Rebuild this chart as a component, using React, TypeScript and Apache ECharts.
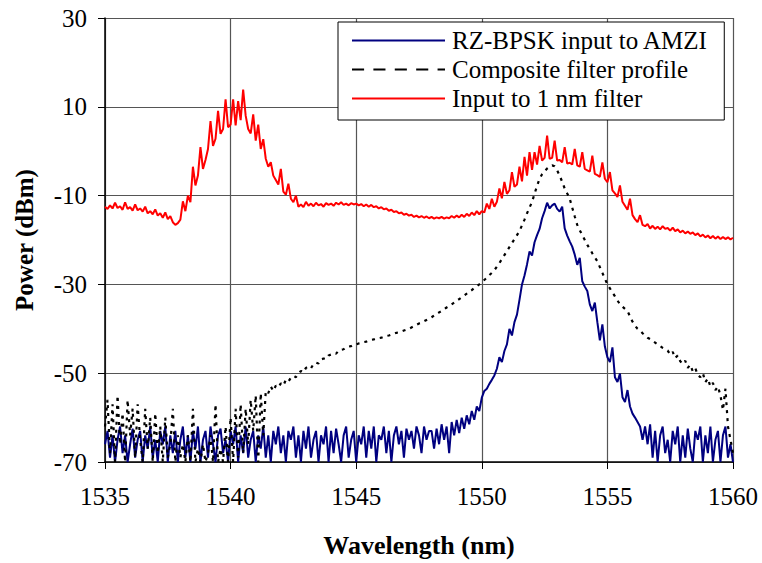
import React, { useEffect, useRef } from "react";
import * as echarts from "echarts";

// Sampling grid: 1535.0 nm to 1560.0 nm, 0.1 nm step (251 samples)
const WL_START = 1535;
const WL_STEP = 0.1;
const WL_COUNT = 251;
const wavelengths: number[] = Array.from({ length: WL_COUNT }, (_, i) => +(WL_START + i * WL_STEP).toFixed(1));

const seriesNames = ["RZ-BPSK input to AMZI", "Composite filter profile", "Input to 1 nm filter"];

// RZ-BPSK input to AMZI (dBm)
const bpsk: number[] = [
  -66, -63, -69, -64, -70, -65, -62, -68, -64, -70,
  -66, -62.5, -69, -65, -63, -70, -64, -67, -62, -69,
  -65, -70, -63, -66, -62, -70, -64, -68, -63, -70,
  -65, -62, -69, -64, -70, -63, -67, -62, -70, -65,
  -63, -69, -62, -66, -70, -64, -62.5, -68, -65, -70,
  -63, -66, -62, -70, -64, -68, -62, -69, -65, -63,
  -70, -64, -67, -62, -69, -64, -70, -63, -66, -62,
  -68, -64, -70, -63, -65, -62, -69, -64, -70, -63,
  -67, -62, -69, -65, -63, -70, -64, -66, -62, -70,
  -63, -68, -62.5, -66, -70, -64, -62, -69, -65, -63,
  -70, -64, -66, -62, -69, -63, -67, -62, -70, -64,
  -65, -62, -68, -63, -70, -64, -62, -66, -63, -69,
  -62.5, -65, -63, -67, -62, -64, -68, -62, -65, -63,
  -63, -67, -62.5, -66, -61.5, -65, -62, -68, -61, -64,
  -60.5, -63.5, -60, -62.5, -59.5, -61.5, -58.5, -60.5, -57.5, -58.5,
  -55.5, -54, -53.5, -52.4, -51.5, -50.5, -49, -46.4, -47.5, -45,
  -43.5, -40, -41.5, -38.5, -36.8, -33.5, -30, -28, -25.5, -22.6,
  -23.5, -20.5, -18.9, -17.5, -15.1, -13.5, -11.6, -12.9, -12.2, -11.8,
  -13, -13.6, -12.5, -17.4, -19, -20.3, -21.5, -23.3, -25.6, -24,
  -29.3, -30.5, -31.5, -34.5, -36, -34.1, -38.5, -42.6, -39, -44,
  -46.4, -47.5, -44.2, -50.9, -52, -50.1, -55.4, -56.5, -53.8, -57.5,
  -59.1, -60, -61, -62, -65,
  -62, -66, -61.5, -69, -63, -70, -64, -62, -68, -65,
  -70, -63, -66, -62, -70, -64, -69, -62.5, -67, -70,
  -63, -65, -62, -70, -64, -68, -62, -70, -65, -63,
  -70, -64, -62, -69, -66, -70,
];

// Composite filter profile (dBm)
const composite: number[] = [
  -62, -56, -68, -57, -70, -55, -66, -59, -70, -56,
  -64, -58, -69, -57, -65, -70, -58, -67, -60, -70,
  -59, -68, -62, -70, -60, -69, -66, -58, -70, -64,
  -69, -66, -70, -64, -70, -58, -70, -67, -70, -66,
  -70, -68, -64, -70, -57, -70, -67, -70, -62, -70,
  -60, -70, -58, -69, -57, -68, -58, -66, -56, -63,
  -55, -70, -54.5, -64, -54, -54.5, -53, -54, -52.8, -53.2,
  -52.3, -52.8, -51.5, -51.9, -51, -50.6, -50.9, -50, -49.5, -49.8,
  -48.8, -48.5, -48.9, -47.9, -47.6, -47.8, -46.9, -46.7, -46.8, -46,
  -45.8, -45.5, -45.6, -44.9, -44.7, -44.6, -44.2, -44, -43.9, -43.6,
  -43.5, -43.3, -43.2, -43, -42.9, -42.7, -42.5, -42.4, -42.2, -42.1,
  -42, -41.8, -41.6, -41.5, -41.3, -41.1, -40.9, -40.8, -40.6, -40.4,
  -40.2, -40, -39.7, -39.4, -39.1, -38.8, -38.6, -38.3, -38, -37.7,
  -37.4, -37, -36.7, -36.3, -36, -35.6, -35.2, -34.9, -34.5, -34.1,
  -33.7, -33.3, -32.9, -32.5, -32.1, -31.7, -31.3, -30.8, -30.4, -30,
  -29.5, -29, -28.5, -27.9, -27.4, -26.8, -26, -25.2, -24.3, -23.4,
  -22.5, -21.6, -20.7, -19.8, -18.9, -18, -16.7, -15.4, -14, -12.7,
  -11.4, -9.6, -7.8, -6.2, -5.2, -4.5, -3.9, -3.5, -3.2, -3.4,
  -4.3, -5.5, -6.9, -8.4, -9.5, -10.7, -12.7, -14.7, -16.6, -17.8,
  -18.9, -20, -21.1, -22, -23, -23.9, -24.8, -26.1, -27.4, -28.7,
  -30, -30.9, -31.8, -32.7, -33.6, -34.5, -35, -35.5, -36, -37.2,
  -38.4, -39.3, -40, -40.4, -41, -41.5, -42, -42.3, -42.7, -43.1,
  -43.5, -43.9, -44.3, -44.6, -44.9, -45.8, -45.2, -46.6, -46, -47.3,
  -47.9, -47.2, -48.8, -48.1, -49.6, -48.9, -50.4, -50.9, -50, -52,
  -51.2, -53, -52.2, -53.8, -53, -55, -58.3, -53.5, -62, -65,
  -68,
];

// Input to 1 nm filter (dBm)
const filterInput: number[] = [
  -12.5, -13.0, -12.2, -12.9, -11.6, -12.8, -12.4, -13.2, -11.5, -13.0,
  -12.6, -13.4, -12.0, -13.3, -12.9, -13.6, -12.5, -14.0, -13.5, -14.2,
  -13.1, -14.5, -14.0, -15.0, -13.8, -15.3, -14.6, -16.0, -16.6, -16.2,
  -15.4, -11.3, -13.5, -10.0, -11.5, -3.5, -7.7, -5.5, 0.9, -4.0,
  -2.0, 0.5, 6.8, 1.2, 2.8, 9.1, 3.9, 5.0, 11.7, 5.4,
  6.0, 11.7, 5.8, 11.3, 7.0, 13.9, 8.0, 5.0, 4.0, 8.3,
  2.4, 6.0, 0.5, 2.7, -1.7, -3.5, -2.5, -5.5, -6.5, -7.5,
  -4.0, -9.1, -9.8, -7.3, -10.7, -11.5, -10.0, -12.5, -12.0, -12.6,
  -11.4, -12.3, -11.8, -12.4, -11.6, -12.2, -11.9, -12.5, -11.7, -12.1,
  -11.8, -12.3, -11.6, -12.0, -11.5, -12.1, -11.8, -12.2, -11.7, -12.0,
  -11.8, -12.2, -11.9, -12.4, -12.0, -12.5, -12.1, -12.6, -12.4, -12.9,
  -12.6, -13.1, -12.9, -13.4, -13.2, -13.7, -13.5, -14.0, -13.8, -14.3,
  -14.1, -14.5, -14.3, -14.8, -14.5, -14.9, -14.6, -15.0, -14.7, -15.1,
  -14.8, -15.2, -14.9, -15.1, -14.8, -15.2, -14.9, -15.1, -14.6, -15.0,
  -14.5, -14.9, -14.3, -14.8, -14.1, -14.6, -13.8, -14.4, -13.5, -14.2,
  -13.5, -13.8, -11.8, -13.0, -10.7, -12.5, -11.4, -8.4, -10.6, -6.9,
  -9.6, -8.8, -4.7, -8.0, -7.5, -3.5, -6.8, -1.3, -5.5, -0.2,
  -4.2, -0.2, -3.0, 1.2, -2.1, -1.5, 3.5, -1.7, -1.5, 2.4,
  -2.1, -2.0, -2.5, 0.9, -2.8, -2.6, -3.0, 0.5, -3.2, -3.5,
  -0.2, -4.0, -4.3, -4.6, -1.0, -5.1, -5.4, -5.8, -2.5, -6.2,
  -7.0, -4.7, -8.8, -9.5, -10.3, -7.7, -11.4, -12.3, -13.2, -10.7,
  -14.4, -15.3, -16.0, -14.4, -16.6, -16.9, -16.4, -17.4, -16.8, -17.5,
  -17.0, -17.6, -16.9, -17.5, -17.3, -17.9, -17.2, -18.0, -17.6, -18.3,
  -17.9, -18.5, -18.1, -18.6, -18.3, -18.9, -18.5, -19.2, -18.8, -19.4,
  -19.0, -19.6, -19.1, -19.7, -19.2, -19.8, -19.3, -19.8, -19.4, -19.9,
  -19.5,
];

const xTicks = { min: 1535, max: 1560, interval: 5 };
const yTicks = { min: -70, max: 30, interval: 20 };

const FONT = "'Liberation Serif', 'Times New Roman', serif";

const SOLID_ICON = "path://M0,0 L100,0 L100,2.2 L0,2.2 Z";
const DASH_ICON =
  "path://M0,0 L13,0 L13,2.2 L0,2.2 Z M23,0 L36,0 L36,2.2 L23,2.2 Z M46,0 L59,0 L59,2.2 L46,2.2 Z M69,0 L82,0 L82,2.2 L69,2.2 Z M92,0 L100,0 L100,2.2 L92,2.2 Z";

export default function App() {
  const ref = useRef<HTMLDivElement>(null);
  useEffect(() => {
    if (!ref.current) return;
    const chart = echarts.init(ref.current, null, { renderer: "svg" });
    const pair = (vals: number[]) => wavelengths.map((w, i) => [w, vals[i]]);
    const colors = ["#000080", "#000000", "#ff0000"];
    chart.setOption({
      animation: false,
      backgroundColor: "#ffffff",
      grid: { left: 105, right: 29, top: 18, bottom: 98, containLabel: false },
      legend: {
        orient: "vertical",
        left: 338,
        top: 22,
        padding: [6, 16, 9, 14],
        itemGap: 4,
        itemWidth: 93,
        itemHeight: 14,
        backgroundColor: "#ffffff",
        borderColor: "#000000",
        borderWidth: 1,
        borderRadius: 0,
        textStyle: { fontFamily: FONT, fontSize: 25, color: "#000000", padding: [0, 0, 0, 2] },
        data: [
          { name: seriesNames[0], icon: SOLID_ICON, itemStyle: { color: colors[0] } },
          { name: seriesNames[1], icon: DASH_ICON, itemStyle: { color: colors[1] } },
          { name: seriesNames[2], icon: SOLID_ICON, itemStyle: { color: colors[2] } },
        ],
      },
      xAxis: {
        type: "value",
        min: xTicks.min,
        max: xTicks.max,
        interval: xTicks.interval,
        name: "Wavelength (nm)",
        nameLocation: "middle",
        nameGap: 70,
        nameTextStyle: { fontFamily: FONT, fontSize: 26, fontWeight: "bold", color: "#000" },
        axisLine: { show: true, onZero: false, lineStyle: { color: "#000", width: 1.5 } },
        axisTick: { show: true, inside: false, length: 7, lineStyle: { color: "#000", width: 1 } },
        axisLabel: {
          fontFamily: FONT,
          fontSize: 25,
          color: "#000",
          margin: 22,
          formatter: (v: number) => String(v),
        },
        splitLine: { show: true, lineStyle: { color: "#555", width: 1.2 } },
      },
      yAxis: {
        type: "value",
        min: yTicks.min,
        max: yTicks.max,
        interval: yTicks.interval,
        name: "Power (dBm)",
        nameLocation: "middle",
        nameGap: 68,
        nameTextStyle: { fontFamily: FONT, fontSize: 25, fontWeight: "bold", color: "#000" },
        axisLine: { show: true, onZero: false, lineStyle: { color: "#000", width: 1.5 } },
        axisTick: { show: true, inside: false, length: 7, lineStyle: { color: "#000", width: 1 } },
        axisLabel: { fontFamily: FONT, fontSize: 25, color: "#000", margin: 18, formatter: (v: number) => String(v) },
        splitLine: { show: true, lineStyle: { color: "#555", width: 1.2 } },
      },
      series: [
        {
          name: seriesNames[0],
          type: "line",
          data: pair(bpsk),
          symbol: "none",
          color: colors[0],
          lineStyle: { color: colors[0], width: 2 },
          clip: true,
        },
        {
          name: seriesNames[1],
          type: "line",
          data: pair(composite),
          symbol: "none",
          color: colors[1],
          lineStyle: { color: colors[1], width: 2.2, type: [3, 5] },
          clip: true,
        },
        {
          name: seriesNames[2],
          type: "line",
          data: pair(filterInput),
          symbol: "none",
          color: colors[2],
          lineStyle: { color: colors[2], width: 2 },
          clip: true,
        },
      ],
    });
    return () => chart.dispose();
  }, []);
  return (
    <div
      ref={ref}
      style={{ position: "absolute", left: 0, top: 0, width: 762, height: 563, background: "#fff" }}
    />
  );
}
